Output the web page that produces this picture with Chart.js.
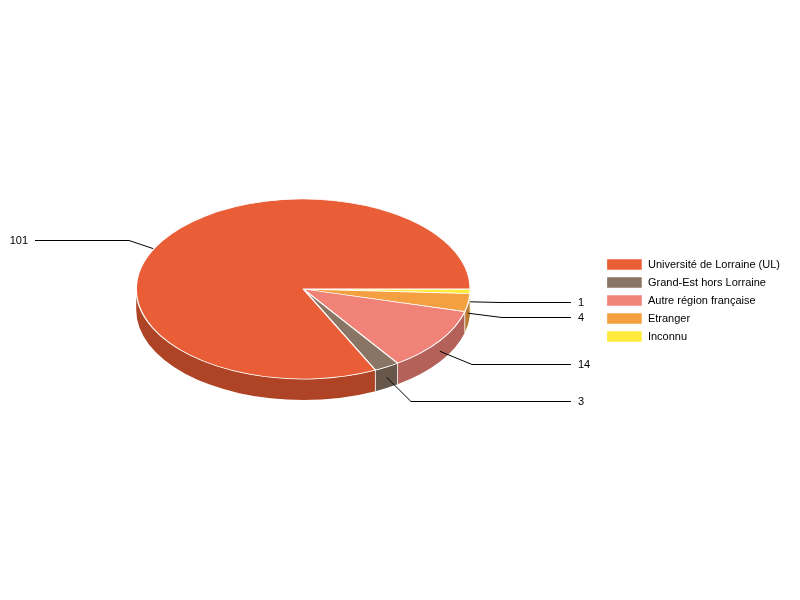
<!DOCTYPE html>
<html>
<head>
<meta charset="utf-8">
<style>
  html, body { margin: 0; padding: 0; background: #fff; }
  canvas { display: block; }
</style>
<script src="https://cdn.jsdelivr.net/npm/chart.js@4"></script>
</head>
<body>
<canvas id="pie" width="800" height="600"></canvas>
<script>
const categories = ['Université de Lorraine (UL)', 'Grand-Est hors Lorraine', 'Autre région française', 'Etranger', 'Inconnu'];
const values = [101, 3, 14, 4, 1];
const colors = ['#EA5E37', '#8A7564', '#F08277', '#F5A040', '#FFEB3B'];
const wallColors = ['#AE4325', '#67574B', '#B36159', '#B87A2E', '#BFB02C'];

// where each leader line bends
const elbows = [[129, 240.5], [411, 401.5], [472, 364.5], [502, 317.5], [500, 302.5]];

const pieCenterY = 289;
const squash = 90 / 167;
const depth = 21;
const labelFont = '11px "Liberation Sans", Arial, sans-serif';

// Chart.js has no 3D pie, so squash the arcs and add the side wall underneath
const tiltedPie = {
  id: 'tiltedPie',
  beforeDatasetDraw(chart, args) {
    const ctx = chart.ctx;
    const arcs = chart.getDatasetMeta(args.index).data;
    const cx = arcs[0].x;
    const cy = arcs[0].y;

    const tilt = () => {
      ctx.translate(0, pieCenterY);
      ctx.scale(1, squash);
      ctx.translate(0, -cy);
    };

    ctx.save();
    tilt();
    arcs.forEach((arc, i) => {
      const from = Math.max(arc.startAngle, 0);
      const to = Math.min(arc.endAngle, Math.PI);
      if (to <= from) return;
      ctx.beginPath();
      ctx.arc(cx, cy, arc.outerRadius, from, to);
      ctx.arc(cx, cy + depth / squash, arc.outerRadius, to, from, true);
      ctx.closePath();
      ctx.fillStyle = wallColors[wallColors.length - 1 - i];
      ctx.fill();
    });
    ctx.strokeStyle = '#fff';
    ctx.lineWidth = 1;
    arcs.forEach((arc) => {
      if (arc.startAngle <= 0 || arc.startAngle >= Math.PI) return;
      const x = cx + arc.outerRadius * Math.cos(arc.startAngle);
      const y = cy + arc.outerRadius * Math.sin(arc.startAngle);
      ctx.beginPath();
      ctx.moveTo(x, y);
      ctx.lineTo(x, y + depth / squash);
      ctx.stroke();
    });
    ctx.restore();

    // leader lines start halfway down the wall, the top face hides the back ones
    ctx.save();
    ctx.font = labelFont;
    ctx.textBaseline = 'middle';
    ctx.fillStyle = '#000';
    ctx.strokeStyle = '#000';
    ctx.lineWidth = 1;
    arcs.forEach((arc, i) => {
      const n = arcs.length - 1 - i;
      const mid = (arc.startAngle + arc.endAngle) / 2;
      const left = Math.cos(mid) < 0;
      const x = cx + arc.outerRadius * Math.cos(mid);
      const y = pieCenterY + arc.outerRadius * squash * Math.sin(mid) + depth / 2;
      const [ex, ey] = elbows[n];
      const endX = left ? 35 : 571;
      ctx.beginPath();
      ctx.moveTo(x, y);
      ctx.lineTo(ex, ey);
      ctx.lineTo(endX, ey);
      ctx.stroke();
      ctx.textAlign = left ? 'right' : 'left';
      ctx.fillText(String(values[n]), left ? 28 : 578, ey);
    });
    ctx.restore();

    ctx.save();
    tilt();
  },
  afterDatasetDraw(chart) {
    chart.ctx.restore();
  }
};

new Chart(document.getElementById('pie'), {
  type: 'pie',
  plugins: [tiltedPie],
  data: {
    labels: categories.slice().reverse(),
    datasets: [{
      data: values.slice().reverse(),
      backgroundColor: colors.slice().reverse(),
      borderColor: '#fff',
      borderWidth: 1.4,
      clip: false
    }]
  },
  options: {
    responsive: false,
    animation: false,
    devicePixelRatio: 1,
    rotation: 90,
    radius: 167,
    layout: { padding: { left: 6, right: 10, top: 101, bottom: 100 } },
    plugins: {
      tooltip: { enabled: false },
      legend: {
        position: 'right',
        reverse: true,
        labels: {
          boxWidth: 36,
          boxHeight: 12,
          padding: 6,
          color: '#000',
          font: { family: '"Liberation Sans", Arial, sans-serif', size: 11 }
        }
      }
    }
  }
});
</script>
</body>
</html>
